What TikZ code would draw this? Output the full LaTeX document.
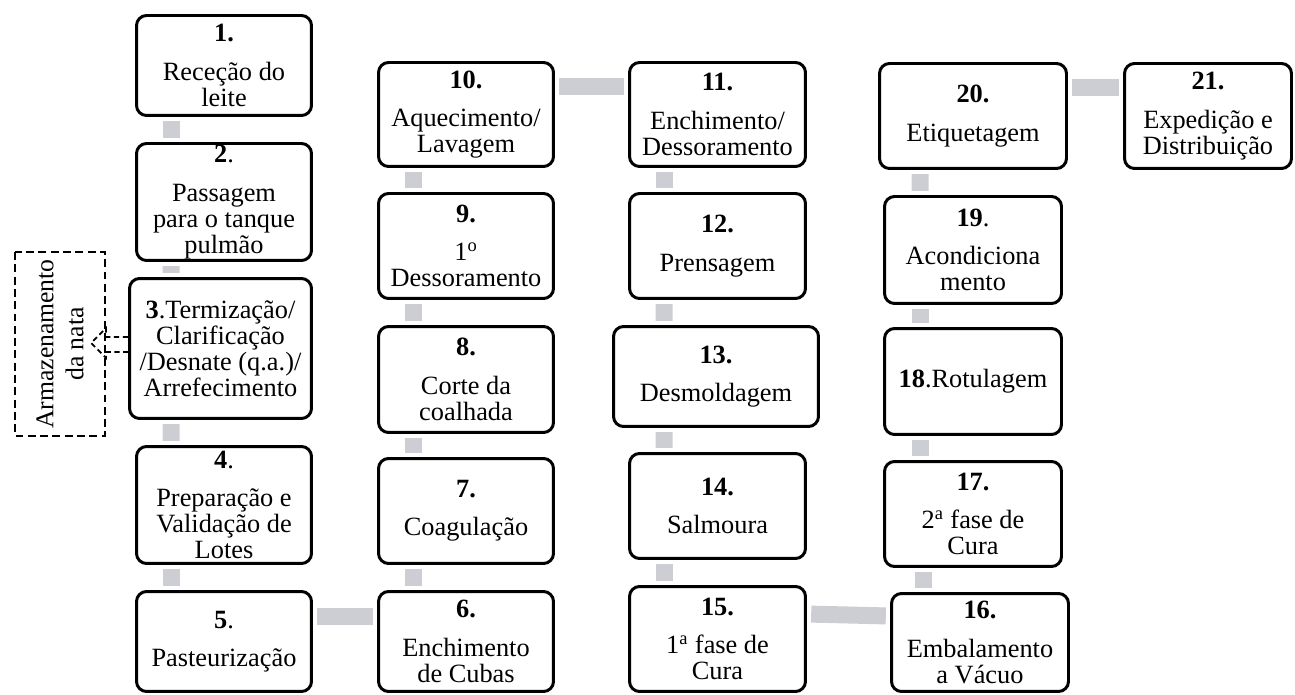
\documentclass[tikz,border=0pt]{standalone}
\usepackage{fontspec}
\setmainfont{Liberation Serif}
\usepackage{tikz}
\usetikzlibrary{positioning}
\definecolor{barGray}{RGB}{205,206,211}
\tikzset
{
  stepnode/.style  = {rectangle, rounded corners=0.2cm, draw=black, line width=1.7pt, align=center, inner sep=1pt, minimum width=3.5cm, minimum height=2.1cm, font=\fontsize{15}{14.8}\selectfont},
  notenode/.style  = {rectangle, draw=black, line width=1.1pt, dash pattern=on 4.5pt off 2.5pt, align=center, rotate=90, minimum width=3.68cm, minimum height=1.8cm, font=\fontsize{14.6}{17}\selectfont},
  notearrow/.style = {draw=black, line width=1pt, dash pattern=on 3pt off 2pt},
  linkbar/.style   = {barGray, line width=0.34cm, shorten <=2.4pt, shorten >=2.4pt}
}

\begin{document}
\begin{tikzpicture}[x=0.02cm, y=-0.02cm]
  \useasboundingbox (0,0) rectangle (1295,695);
  \node [stepnode, minimum height=2.0cm]  (n1) at (224,65.5)  {\textbf{1.}\\[7pt]Receção do\\leite};
  \node [stepnode, minimum height=2.34cm] (n2) at (224,202)   {\textbf{2}.\\[7pt]Passagem\\para o tanque\\pulmão};
  \node [stepnode, minimum width=3.64cm, minimum height=2.8cm] (n3) at (220.5,348.5) {\textbf{3}.Termização/\\Clarificação\\/Desnate (q.a.)/\\Arrefecimento};
  \node [stepnode, minimum height=2.34cm] (n4) at (224,505)   {\textbf{4}.\\[7pt]Preparação e\\Validação de\\Lotes};
  \node [stepnode, minimum height=2.0cm]  (n5) at (224,641.5) {\textbf{5}.\\[7pt]Pasteurização};
  \node [stepnode, minimum height=2.0cm]  (n6) at (466,641.5) {\textbf{6.}\\[7pt]Enchimento\\de Cubas};
  \node [stepnode]                        (n7) at (466,511)   {\textbf{7.}\\[7pt]Coagulação};
  \node [stepnode, minimum height=2.12cm] (n8) at (466,379.5) {\textbf{8.}\\[7pt]Corte da\\coalhada};
  \node [stepnode]                        (n9) at (466,246)   {\textbf{9.}\\[7pt]1\textsuperscript{o}\\Dessoramento};
  \node [stepnode, minimum height=2.08cm] (n10) at (466,114.5) {\textbf{10.}\\[7pt]Aquecimento/\\Lavagem};
  \node [stepnode, minimum width=3.52cm, minimum height=2.08cm] (n11) at (717.5,114.5) {\textbf{11.}\\[7pt]Enchimento/\\Dessoramento};
  \node [stepnode, minimum width=3.52cm]  (n12) at (717.5,246) {\textbf{12.}\\[7pt]Prensagem};
  \node [stepnode, minimum width=4.1cm, minimum height=2.0cm] (n13) at (716,376.5) {\textbf{13.}\\[7pt]Desmoldagem};
  \node [stepnode, minimum width=3.52cm]  (n14) at (717.5,506) {\textbf{14.}\\[7pt]Salmoura};
  \node [stepnode, minimum width=3.52cm]  (n15) at (717.5,639) {\textbf{15.}\\[7pt]1\textsuperscript{a} fase de\\Cura};
  \node [stepnode, minimum width=3.54cm, minimum height=1.96cm] (n16) at (980,642.5) {\textbf{16.}\\[7pt]Embalamento\\a Vácuo};
  \node [stepnode, minimum width=3.54cm]  (n17) at (973,514) {\textbf{17.}\\[7pt]2\textsuperscript{a} fase de\\Cura};
  \node [stepnode, minimum width=3.54cm, minimum height=2.12cm] (n18) at (973,381.5) {\textbf{18}.Rotulagem};
  \node [stepnode, minimum width=3.54cm, minimum height=2.14cm] (n19) at (973,250) {\textbf{19}.\\[7pt]Acondiciona\\mento};
  \node [stepnode, minimum width=3.74cm]  (n20) at (973,116) {\textbf{20.}\\[7pt]Etiquetagem};
  \node [stepnode, minimum width=3.34cm]  (n21) at (1208,116) {\textbf{21.}\\[7pt]Expedição e\\Distribuição};
  \node [notenode] (nata) at (60,344) {Armazenamento\\da nata};
  \draw [notearrow] ([shift={(0,-11.5)}]n3.west) -- ++(-22,0) -- ++(0,-9) -- ++(-15,15) -- ++(15,15) -- ++(0,-6) -- ([shift={(0,3.5)}]n3.west);
  \foreach \a/\b/\o/\p in {n1/n2/36/36, n2/n3/36/43, n3/n4/43/36, n4/n5/36/36, n10/n9/36/36, n9/n8/36/36, n8/n7/36/36, n7/n6/36/36, n11/n12/36/36, n12/n13/36/52, n13/n14/52/36, n14/n15/36/36, n20/n19/42/37, n19/n18/37/37, n18/n17/37/37, n17/n16/40.5/33.5}
    \draw [linkbar] ([shift={(\o,0)}]\a.south west) -- ([shift={(\p,0)}]\b.north west);
  \foreach \a/\b/\o/\p in {n5/n6/26/26, n10/n11/25/25, n15/n16/29/24, n20/n21/25.5/25.5}
    \draw [linkbar] ([shift={(0,\o)}]\a.north east) -- ([shift={(0,\p)}]\b.north west);
\end{tikzpicture}
\end{document}
